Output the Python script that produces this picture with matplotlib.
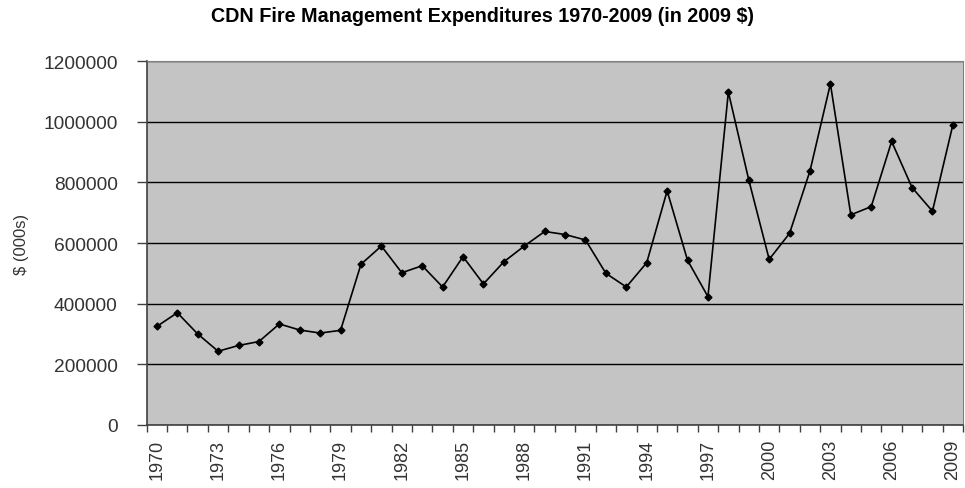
import matplotlib
matplotlib.use("Agg")
import matplotlib.pyplot as plt
from matplotlib.ticker import FixedLocator

plt.rcParams['font.family'] = ['Liberation Sans', 'DejaVu Sans']

years = list(range(1970, 2010))
values = [325000, 370000, 300000, 243000, 262000, 275000, 333000, 313000, 303000, 312000,
          530000, 590000, 502000, 525000, 455000, 555000, 465000, 538000, 590000, 638000,
          628000, 610000, 500000, 455000, 535000, 772000, 543000, 423000, 1098000, 808000,
          546000, 632000, 838000, 1125000, 693000, 720000, 935000, 783000, 705000, 990000]
tick_years = years[::3]
y_ticks = [0, 200000, 400000, 600000, 800000, 1000000, 1200000]

fig = plt.figure(figsize=(9.65, 4.89), dpi=100)
ax = fig.add_axes([0.152, 0.129, 0.846, 0.744])
ax.set_facecolor('#c4c4c4')

x = list(range(len(years)))
ax.plot(x, values, color='black', linewidth=1.2, marker='D', markersize=3.5, zorder=3)

ax.set_xlim(-0.5, len(years) - 0.5)
ax.set_ylim(0, 1200000)
ax.set_yticks(y_ticks)
ax.set_yticklabels([str(v) for v in y_ticks], fontsize=13.8, color='#333333')
ax.yaxis.grid(True, color='black', linewidth=1.0)
ax.set_axisbelow(True)

ax.set_xticks([years.index(yy) for yy in tick_years])
ax.set_xticklabels([str(yy) for yy in tick_years], rotation=90, fontsize=13, color='#333333')
ax.xaxis.set_minor_locator(FixedLocator([i - 0.5 for i in range(len(years) + 1)]))
ax.tick_params(axis='x', which='major', length=0, pad=10)
ax.tick_params(axis='x', which='minor', length=5, width=1, color='#404040')
ax.tick_params(axis='y', length=7, width=1, color='#404040', pad=14)

for s in ['top', 'right']:
    ax.spines[s].set_color('#808080')
    ax.spines[s].set_linewidth(0.8)
for s in ['left', 'bottom']:
    ax.spines[s].set_color('#404040')
    ax.spines[s].set_linewidth(1.2)

ax.set_ylabel('$ (000s)', fontsize=12, color='#333333')
ax.yaxis.set_label_coords(-0.144, 0.5)
fig.suptitle('CDN Fire Management Expenditures 1970-2009 (in 2009 $)', fontsize=14.2,
             fontweight='bold', y=0.985)

fig.savefig('out.png', dpi=100, facecolor='white')
